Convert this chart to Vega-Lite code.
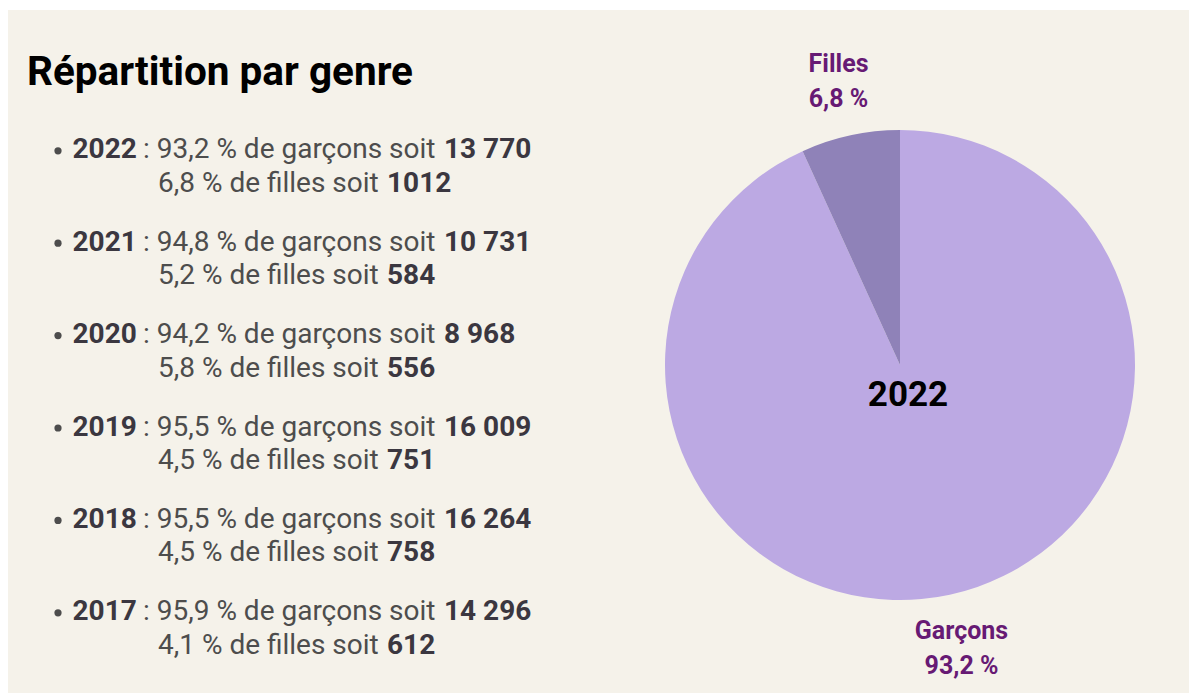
{
  "$schema": "https://vega.github.io/schema/vega-lite/v6.json",
  "background": "#ffffff",
  "padding": {"left": 8, "top": 10, "right": 0, "bottom": 0},
  "spacing": 0,
  "config": {
    "view": {"fill": "#f5f2ea", "stroke": null},
    "font": "Roboto",
    "text": {"font": "Roboto"}
  },
  "datasets": {
    "annees": [
      {"annee": 2022, "pct_garcons": 93.2, "garcons": 13770, "pct_filles": 6.8, "filles": 1012},
      {"annee": 2021, "pct_garcons": 94.8, "garcons": 10731, "pct_filles": 5.2, "filles": 584},
      {"annee": 2020, "pct_garcons": 94.2, "garcons": 8968, "pct_filles": 5.8, "filles": 556},
      {"annee": 2019, "pct_garcons": 95.5, "garcons": 16009, "pct_filles": 4.5, "filles": 751},
      {"annee": 2018, "pct_garcons": 95.5, "garcons": 16264, "pct_filles": 4.5, "filles": 758},
      {"annee": 2017, "pct_garcons": 95.9, "garcons": 14296, "pct_filles": 4.1, "filles": 612}
    ],
    "genre2022": [
      {"annee": 2022, "genre": "Garçons", "pct": 93.2},
      {"annee": 2022, "genre": "Filles", "pct": 6.8}
    ]
  },
  "hconcat": [
    {
      "width": 603,
      "height": 683,
      "layer": [
        {
          "data": {"values": [{"titre": "Répartition par genre"}]},
          "mark": {"type": "text", "x": 19, "align": "left", "baseline": "alphabetic", "fontSize": 40.5, "fontWeight": "bold", "color": "#000000"},
          "encoding": {"y": {"value": 75}, "text": {"field": "titre", "type": "nominal"}}
        },
        {
          "data": {"name": "annees"},
          "encoding": {
            "y": {"field": "annee", "type": "ordinal", "sort": "descending", "scale": {"type": "point", "padding": 0, "range": [148.3, 610.3]}, "axis": null}
          },
          "layer": [
            {
              "mark": {"type": "point", "shape": "circle", "filled": true, "opacity": 1, "size": 52, "x": 50, "yOffset": -7.5, "color": "#4d4d4d"}
            },
            {
              "mark": {"type": "text", "x": 64.5, "align": "left", "baseline": "alphabetic", "fontSize": 28, "fontWeight": "bold", "color": "#3b3740"},
              "encoding": {"text": {"field": "annee", "type": "nominal"}}
            },
            {
              "mark": {"type": "text", "x": 135, "align": "left", "baseline": "alphabetic", "fontSize": 28, "color": "#4d4d4d",
                "text": {"expr": "': ' + replace(format(datum.pct_garcons, '.1f'), '.', ',') + ' % de garçons soit'"}}
            },
            {
              "mark": {"type": "text", "x": 436, "align": "left", "baseline": "alphabetic", "fontSize": 28, "fontWeight": "bold", "color": "#3b3740",
                "text": {"expr": "replace(format(datum.garcons, ',d'), ',', ' ')"}}
            },
            {
              "mark": {"type": "text", "x": 150, "dy": 33.4, "align": "left", "baseline": "alphabetic", "fontSize": 28, "color": "#4d4d4d",
                "text": {"expr": "replace(format(datum.pct_filles, '.1f'), '.', ',') + ' % de filles soit'"}}
            },
            {
              "mark": {"type": "text", "x": 379, "dy": 33.4, "align": "left", "baseline": "alphabetic", "fontSize": 28, "fontWeight": "bold", "color": "#3b3740",
                "text": {"expr": "format(datum.filles, 'd')"}}
            }
          ]
        }
      ]
    },
    {
      "width": 578,
      "height": 683,
      "view": {"fill": "#f5f2ea", "stroke": null},
      "layer": [
        {
          "data": {"name": "genre2022"},
          "mark": {"type": "arc", "radius": 235, "yOffset": 13.5},
          "encoding": {
            "theta": {"field": "pct", "type": "quantitative", "stack": true},
            "order": {"field": "pct", "type": "quantitative", "sort": "descending"},
            "color": {"field": "genre", "type": "nominal", "scale": {"domain": ["Garçons", "Filles"], "range": ["#bca9e3", "#8f82b8"]}, "legend": null}
          }
        },
        {
          "data": {"name": "genre2022"},
          "mark": {"type": "text", "radius": 290, "yOffset": 13.5, "dy": -17.5, "align": "center", "baseline": "middle", "fontSize": 25, "fontWeight": "bold", "color": "#671a74", "lineHeight": 35,
            "text": {"expr": "[datum.genre, replace(format(datum.pct, '.1f'), '.', ',') + ' %']"}},
          "encoding": {
            "theta": {"field": "pct", "type": "quantitative", "stack": true},
            "order": {"field": "pct", "type": "quantitative", "sort": "descending"}
          }
        },
        {
          "data": {"values": [{"annee": "2022", "pos": 0.5}]},
          "mark": {"type": "text", "align": "center", "baseline": "middle", "dx": 8, "dy": 43, "fontSize": 35, "fontWeight": "bold", "color": "#000000"},
          "encoding": {
            "x": {"field": "pos", "type": "quantitative", "scale": {"domain": [0, 1]}, "axis": null},
            "y": {"field": "pos", "type": "quantitative", "scale": {"domain": [0, 1]}, "axis": null},
            "text": {"field": "annee", "type": "nominal"}
          }
        }
      ]
    }
  ]
}
